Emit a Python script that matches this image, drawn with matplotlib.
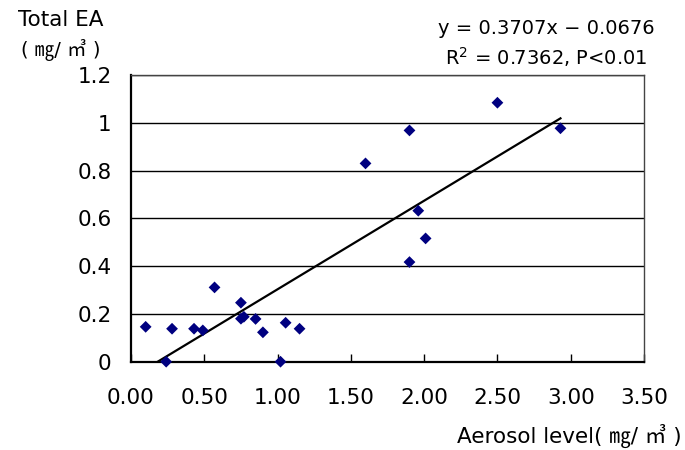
import matplotlib
matplotlib.use("Agg")
import matplotlib.pyplot as plt
import numpy as np

plt.rcParams['font.family'] = ['DejaVu Sans', 'Noto Sans CJK KR']

# aerosol level vs total EA
aerosol = [0.10, 0.28, 0.43, 0.49, 0.57, 0.75, 0.75, 0.77, 0.85, 0.90,
           1.055, 1.15, 0.24, 1.02, 1.60, 1.90, 2.50, 2.93, 1.96, 2.01, 1.90]
total_ea = [0.146, 0.138, 0.138, 0.131, 0.311, 0.247, 0.180, 0.188, 0.179, 0.123,
            0.163, 0.138, 0.0, 0.0, 0.830, 0.968, 1.084, 0.977, 0.632, 0.516, 0.417]
slope = 0.3707
intercept = -0.0676
x_ticks = [0.0, 0.5, 1.0, 1.5, 2.0, 2.5, 3.0, 3.5]
y_ticks = [0, 0.2, 0.4, 0.6, 0.8, 1.0, 1.2]
y_ticklabels = ["0", "0.2", "0.4", "0.6", "0.8", "1", "1.2"]

fig = plt.figure(figsize=(6.85, 4.5), dpi=100)
ax = fig.add_axes([131/685, 1 - 361.7/450, 513/685, 286.7/450])

for y in y_ticks[1:]:
    ax.axhline(y, color="black", lw=1.0, zorder=1)

# trend line over the data range
xs = np.array([min(aerosol), max(aerosol)])
ax.plot(xs, slope*xs + intercept, color="black", lw=1.6, zorder=2)
ax.scatter(aerosol, total_ea, marker="D", s=36, color="#000080",
           edgecolors="none", zorder=3, clip_on=False)

ax.set_xlim(0, 3.5)
ax.set_ylim(0, 1.2)
ax.set_xticks(x_ticks)
ax.set_xticklabels([f"{v:.2f}" for v in x_ticks])
ax.set_yticks(y_ticks)
ax.set_yticklabels(y_ticklabels)
ax.tick_params(axis="x", direction="in", length=6, width=1, labelsize=15.5, pad=19)
ax.tick_params(axis="y", direction="in", length=0, labelsize=15.5, pad=14)
for s in ["left", "bottom"]:
    ax.spines[s].set_linewidth(1.6)
    ax.spines[s].set_color("black")
for s in ["top", "right"]:
    ax.spines[s].set_linewidth(1.0)
    ax.spines[s].set_color("#444444")

fig.text(61/685, 1 - 20/450, "Total EA", ha="center", va="center", fontsize=15.5)
fig.text(61/685, 1 - 50/450, "( ㎎/ ㎥ )", ha="center", va="center", fontsize=14)
fig.text(682/685, 1 - 436/450, "Aerosol level( ㎎/ ㎥ )", ha="right", va="center", fontsize=15.5)
fig.text(546/685, 1 - 28/450, "y = 0.3707x − 0.0676", ha="center", va="center", fontsize=14)
fig.text(546/685, 1 - 57/450, "R$^2$ = 0.7362, P<0.01", ha="center", va="center", fontsize=14)

fig.savefig("out.png", dpi=100)
